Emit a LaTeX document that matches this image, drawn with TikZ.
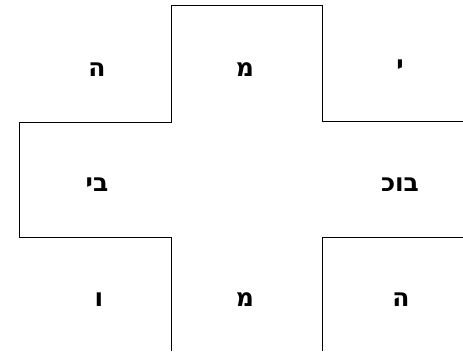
\documentclass[tikz,border=0pt]{standalone}
\usepackage{fontspec}
\TeXXeTstate=1
\newfontfamily\hebfont[Script=Hebrew]{DejaVu Sans}
\begin{document}
\begin{tikzpicture}[x=1pt,y=-1pt,
  heb/.style={font=\hebfont\bfseries\fontsize{25}{27}\selectfont, inner sep=0pt},
  outline/.style={line width=1pt, black}]
\useasboundingbox (0,0) rectangle (463,351);
% cross outline
\coordinate (tl) at (171,5);
\coordinate (tr) at (322,5);
\draw[outline] (171,351) -- (171,237) -- (19,237) -- (19,122) -- (171,122) -- (tl) -- (tr) -- (322,121) -- (463,121);
\draw[outline] (463,237) -- (322,237) -- (322,351);
% labels
\node[heb] (a1) at (97,70) {\beginR ה\endR};
\node[heb] (a2) at (245,70) {\beginR מ\endR};
\node[heb] (a3) at (400,67) {\beginR י\endR};
\node[heb] (b1) at (97,185) {\beginR בי\endR};
\node[heb] (b3) at (400,185) {\beginR בוכ\endR};
\node[heb] (c1) at (99,300) {\beginR ו\endR};
\node[heb] (c2) at (245,300) {\beginR מ\endR};
\node[heb] (c3) at (401,300) {\beginR ה\endR};
\end{tikzpicture}
\end{document}
